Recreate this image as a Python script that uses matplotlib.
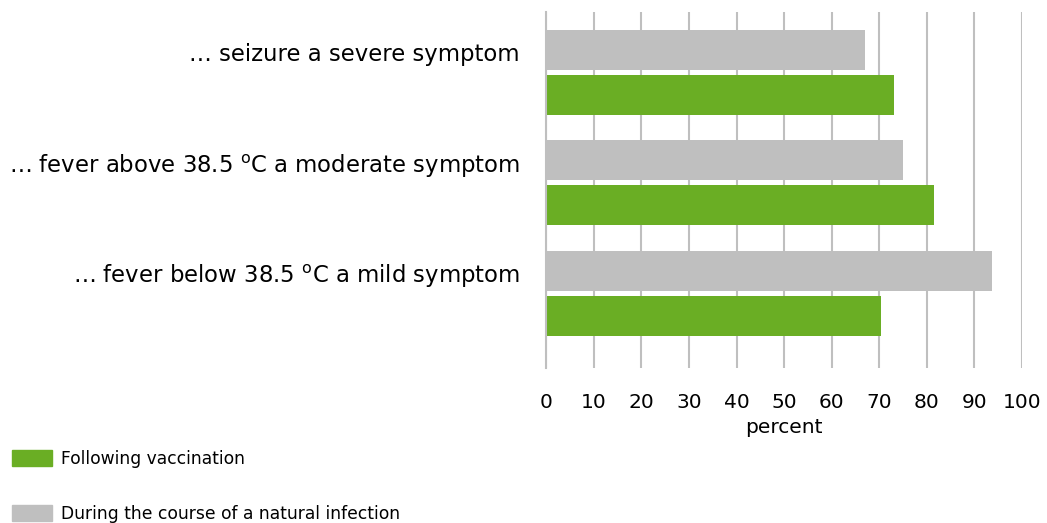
import matplotlib
matplotlib.use('Agg')
import matplotlib.pyplot as plt
import numpy as np
from matplotlib.patches import Patch

plt.rcParams['font.family'] = ['DejaVu Sans']
plt.rcParams['mathtext.fontset'] = 'custom'
plt.rcParams['mathtext.rm'] = 'DejaVu Sans'

categories = ['… seizure a severe symptom',
              '… fever above 38.5 $^\\mathrm{o}$C a moderate symptom',
              '… fever below 38.5 $^\\mathrm{o}$C a mild symptom']
natural = [67, 75, 93.7]
vaccination = [73.1, 81.5, 70.4]

green = '#6aae24'
grey = '#bfbfbf'

fig = plt.figure(figsize=(10.47, 5.23), dpi=100)
ax = fig.add_axes([546.3 / 1047, 1 - 368 / 523, (1021.8 - 546.3) / 1047, 356 / 523])

y = np.arange(len(categories))
h = 0.363
off = 0.204
ax.barh(y - off, natural, height=h, color=grey, label='During the course of a natural infection')
ax.barh(y + off, vaccination, height=h, color=green, label='Following vaccination')

ax.set_xlim(0, 100)
ax.set_ylim(2.68, -0.549)
ax.set_xticks(range(0, 101, 10))
# labels sit level with the upper (grey) bar of each pair
ax.set_yticks(y - off + 0.02)
ax.set_yticklabels(categories, fontsize=16.4)
ax.tick_params(axis='y', length=0, pad=19)
ax.tick_params(axis='x', length=0, labelsize=14.5, pad=18)
ax.set_xlabel('percent', fontsize=14.5, labelpad=4)
ax.grid(axis='x', color='#bfbfbf', linewidth=1.5)
ax.set_axisbelow(True)
for s in ['top', 'right', 'bottom']:
    ax.spines[s].set_visible(False)
ax.spines['left'].set_color('#bfbfbf')
ax.spines['left'].set_linewidth(1.5)

handles = [Patch(color=green), Patch(color=grey)]
fig.legend(handles, ['Following vaccination', 'During the course of a natural infection'],
           loc='lower left', bbox_to_anchor=(12 / 1047, 0.0), frameon=False, fontsize=12.3,
           handlelength=2.35, handleheight=1.06, handletextpad=0.5, labelspacing=2.15,
           borderpad=0, borderaxespad=0)

fig.savefig('out.png', dpi=100)
